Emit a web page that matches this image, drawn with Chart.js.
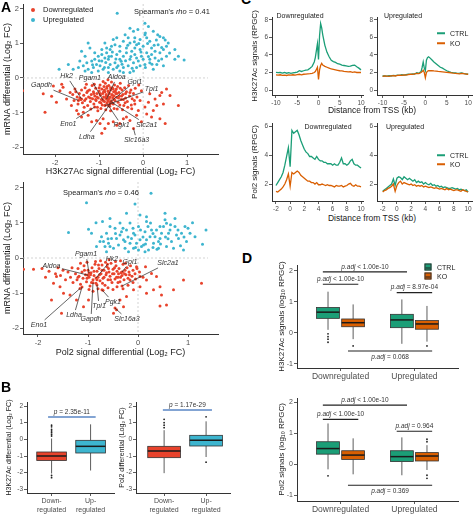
<!DOCTYPE html>
<html>
<head>
<meta charset="utf-8">
<title>H3K27Ac / Pol2 figure</title>
<script src="https://cdn.jsdelivr.net/npm/chart.js@4.4.1/dist/chart.umd.min.js"></script>
<style>
  body { margin: 0; width: 474px; height: 514px; position: relative; overflow: hidden; background: #fff;
         font-family: "Liberation Sans", Arial, sans-serif; color: #222; }
  canvas { position: absolute; }
  .txt { position: absolute; white-space: nowrap; line-height: 1; }
</style>
</head>
<body>
<script>
// ---- panel A: scatter of mRNA log2FC vs signal log2FC ----
const h3Down = [
  [-2.74,-0.37],[-2.27,-0.46],[-2.23,-0.99],[-2.08,-0.53],[-2.04,-0.23],[-1.89,-0.37],[-1.85,-0.18],[-1.97,-0.70],
  [-1.82,-0.27],[-1.74,-0.61],[-1.66,-0.42],[-1.63,-0.80],[-1.55,-0.32],[-1.51,-0.94],[-1.47,-1.04],[-1.40,-1.13],
  [-1.36,-0.99],[-1.25,-1.08],[-1.17,-1.27],[-1.06,-1.23],[-0.98,-1.32],[-0.91,-1.18],[-0.87,-1.46],[-0.94,-1.60],
  [-0.79,-1.32],[-0.68,-1.27],[-0.60,-1.37],[-0.53,-1.32],[-0.45,-1.18],[-0.38,-1.13],[-0.30,-1.23],[-0.15,-1.08],
  [-0.04,-1.27],[0.08,-1.04],[0.19,-1.13],[0.23,-0.94],[0.04,-0.84],[-0.11,-0.94],[-0.26,-0.89],[-0.19,-0.75],
  [-0.07,-0.65],[0.12,-0.70],[0.27,-0.61],[0.31,-0.80],[0.38,-0.51],[0.42,-0.42],[0.46,-0.75],[0.53,-0.32],
  [0.61,-0.51],[0.80,-0.80],[0.50,-1.32],[0.38,-1.18],[0.15,-0.46],[-0.04,-0.37],[-0.30,-0.42],
  [-1.50,-0.55],[-1.45,-0.45],[-1.42,-0.62],[-1.40,-0.35],[-1.38,-0.72],[-1.35,-0.50],[-1.32,-0.28],[-1.30,-0.60],
  [-1.28,-0.42],[-1.26,-0.80],[-1.24,-0.55],[-1.22,-0.35],[-1.20,-0.68],[-1.18,-0.48],[-1.16,-0.22],[-1.15,-0.60],
  [-1.13,-0.40],[-1.12,-0.75],[-1.10,-0.52],[-1.08,-0.30],[-1.07,-0.65],[-1.05,-0.45],[-1.04,-0.85],[-1.02,-0.58],
  [-1.00,-0.38],[-0.99,-0.70],[-0.98,-0.20],[-0.97,-0.50],[-0.95,-0.62],[-0.94,-0.32],[-0.93,-0.78],[-0.92,-0.45],
  [-0.90,-0.55],[-0.89,-0.25],[-0.88,-0.68],[-0.87,-0.40],[-0.86,-0.15],[-0.85,-0.58],[-0.84,-0.48],[-0.83,-0.30],
  [-0.82,-0.72],[-0.81,-0.52],[-0.80,-0.38],[-0.79,-0.62],[-0.78,-0.22],[-0.77,-0.45],[-0.76,-0.82],[-0.75,-0.55],
  [-0.74,-0.35],[-0.73,-0.66],[-0.72,-0.12],[-0.71,-0.48],[-0.70,-0.28],[-0.69,-0.58],[-0.68,-0.75],[-0.67,-0.40],
  [-0.66,-0.52],[-0.65,-0.20],[-0.64,-0.65],[-0.62,-0.45],[-0.61,-0.32],[-0.60,-0.56],[-0.58,-0.25],[-0.57,-0.70],
  [-0.55,-0.42],[-0.54,-0.52],[-0.52,-0.15],[-0.50,-0.62],[-0.48,-0.35],[-0.46,-0.48],[-0.44,-0.80],[-0.42,-0.28],
  [-0.40,-0.58],[-0.38,-0.40],[-0.36,-0.68],[-0.33,-0.22],[-0.31,-0.52],[-0.28,-0.35],[-0.25,-0.60],[-0.22,-0.45],
  [-0.18,-0.30],[-0.14,-0.55],[-0.10,-0.20],
  [-1.60,-0.48],[-1.57,-0.65],[-1.53,-0.40],[-1.48,-0.75],[-1.44,-0.58],[-1.34,-0.85],[-1.29,-0.18],[-1.19,-0.90],
  [-1.11,-0.18],[-1.03,-0.95],[-0.96,-0.88],[-0.91,-0.10],[-0.85,-0.92],[-0.80,-0.05],[-0.74,-0.95],[-0.66,-0.88],
  [-0.59,-0.90],[-0.53,-0.78],[-0.47,-0.92],[-0.41,-0.72],[-0.35,-0.85],[-0.27,-0.78],[-0.20,-0.65],
  [-1.05,-0.55],[-0.98,-0.45],[-0.92,-0.62],[-0.88,-0.35],[-0.84,-0.52],[-0.80,-0.66],[-0.78,-0.42],[-0.74,-0.28],
  [-0.70,-0.50],[-0.66,-0.62],[-0.63,-0.38],[-0.60,-0.45],[-0.56,-0.58],[-0.52,-0.30],[-0.49,-0.52],[-1.12,-0.45],
  [-1.08,-0.62],[-1.00,-0.28],[-0.96,-0.72],[-0.90,-0.40],[-0.86,-0.78],[-0.82,-0.25],[-0.77,-0.58],[-0.72,-0.72],
  [-0.68,-0.32],[-1.20,-0.58],[-1.26,-0.38],[-1.33,-0.65],[-0.45,-0.62],[-0.40,-0.45]
];
const h3Up = [
  [-0.59,1.87],[0.04,1.58],[-0.30,1.44],[-0.22,1.35],[-0.60,1.16],[-0.34,1.16],[0.04,1.25],[0.08,1.16],
  [0.15,1.06],[0.46,1.16],[0.53,0.92],[0.34,0.96],[0.19,0.87],[0.00,0.92],[-0.15,0.96],[-0.30,1.01],
  [-0.45,1.06],[-0.53,0.92],[-0.64,0.96],[-0.75,0.82],[-0.83,0.73],[-0.94,0.82],[-1.02,0.63],[-1.10,0.73],
  [-1.21,0.87],[-1.25,1.01],[-1.40,0.77],[-1.32,0.63],[-1.44,0.49],[-1.28,0.44],[-1.17,0.49],[-1.06,0.39],
  [-0.94,0.49],[-0.87,0.58],[-0.79,0.54],[-0.72,0.63],[-0.60,0.68],[-0.53,0.54],[-0.45,0.63],[-0.38,0.73],
  [-0.26,0.77],[-0.19,0.68],[-0.15,0.58],[-0.07,0.82],[-0.04,0.63],[0.08,0.73],[0.19,0.68],[0.27,0.58],
  [0.38,0.73],[0.46,0.82],[0.53,0.63],[0.72,0.54],[0.93,0.52],[0.31,0.39],[0.15,0.44],[0.04,0.39],
  [-0.07,0.35],[-0.22,0.44],[-0.34,0.35],[-0.45,0.30],[-0.57,0.35],[-0.68,0.25],[-0.79,0.30],[-0.91,0.25],
  [-1.02,0.20],[-1.13,0.30],[-1.25,0.25],[-1.36,0.35],[-1.47,0.30],[-1.59,0.25],[-1.91,0.25],[-1.70,0.39],
  [-0.87,1.01],[-0.68,1.11],[-0.41,1.25],[-0.19,1.16],[-0.07,1.11],[0.12,1.49],[0.23,1.35],[0.38,1.20],
  [0.57,1.01],[-0.53,0.77],[-0.64,0.44],[-0.75,0.39],[-0.30,0.54],[-0.11,0.49],[0.00,0.54],[-0.98,0.35],
  [-1.10,0.54],[-1.32,0.20],[-1.17,0.16],[-0.79,0.16],[-0.45,0.16],[-0.22,0.20],[-0.53,0.20],[0.23,0.25],
  [0.46,0.35],[-0.94,0.68],[-0.83,0.87],[-0.38,0.87],[-0.19,0.87],[-0.72,0.92],[0.15,0.54],[0.27,0.77],
  [-0.15,0.30],[-0.30,0.16],[0.72,0.82],[0.50,1.10],[0.42,0.55],[-0.10,1.00],[-0.40,0.50],[-0.62,0.55],
  [-0.85,0.45],[-0.48,0.40],[-0.25,0.28],[0.05,0.30],[-1.00,0.50],[-0.70,0.75],[0.80,0.63],
  [-0.20,1.05],[0.10,1.00],[0.25,0.95],[0.30,1.10],[-0.05,0.75],[0.12,0.62],[0.35,0.50],[-0.28,0.62],
  [-0.50,0.48],[-0.35,0.95],[0.42,0.88],[0.20,0.40],[-0.60,0.30],[-0.88,0.30],[-1.15,0.38],[0.60,0.72],
  [0.05,1.30],[-0.12,1.40],[0.33,1.25],[-0.78,0.62]
];
const pol2Down = [
  [-2.29,-0.32],[-2.09,-0.32],[-1.73,-1.20],[-1.53,-1.58],[-1.69,-0.72],[-1.63,-0.53],[-1.56,-0.82],[-1.49,-1.01],
  [-1.36,-1.06],[-1.23,-1.20],[-1.09,-1.39],[-0.99,-1.20],[-0.43,-1.48],[-0.36,-1.20],[-0.23,-1.10],[-0.09,-0.91],
  [0.04,-0.82],[0.17,-0.63],[0.27,-0.44],[0.31,-0.91],[0.44,-0.82],[0.47,-1.06],[0.57,-1.34],[0.44,-1.37],
  [0.71,-0.91],[0.91,-0.63],[1.27,-0.72],[0.37,-0.53],[0.17,-1.01],[0.04,-0.53],[-0.03,-0.25],[-0.16,-0.63],
  [-0.29,-1.39],[-0.49,-1.58],
  [-1.25,-0.45],[-1.22,-0.62],[-1.20,-0.30],[-1.18,-0.52],[-1.15,-0.75],[-1.12,-0.40],[-1.10,-0.58],[-1.08,-0.22],
  [-1.05,-0.48],[-1.03,-0.68],[-1.00,-0.35],[-0.98,-0.55],[-0.96,-0.80],[-0.94,-0.42],[-0.92,-0.28],[-0.90,-0.62],
  [-0.88,-0.50],[-0.86,-0.18],[-0.84,-0.72],[-0.82,-0.38],[-0.80,-0.55],[-0.78,-0.30],[-0.76,-0.65],[-0.74,-0.45],
  [-0.72,-0.20],[-0.70,-0.58],[-0.68,-0.35],[-0.66,-0.78],[-0.64,-0.48],[-0.62,-0.25],[-0.60,-0.62],[-0.58,-0.40],
  [-0.56,-0.52],[-0.54,-0.15],[-0.52,-0.70],[-0.50,-0.32],[-0.48,-0.45],[-0.46,-0.60],[-0.44,-0.22],[-0.42,-0.38],
  [-0.40,-0.55],[-0.38,-0.30],[-0.36,-0.68],[-0.34,-0.42],[-0.32,-0.50],[-0.30,-0.18],[-0.28,-0.62],[-0.26,-0.35],
  [-0.24,-0.48],[-0.22,-0.28],[-0.20,-0.58],[-0.18,-0.40],[-0.15,-0.22],[-0.12,-0.52],[-0.10,-0.35],[-0.06,-0.45],
  [-0.02,-0.30],[0.03,-0.40],
  [-1.40,-0.40],[-1.35,-0.55],[-1.32,-0.28],[-1.30,-0.70],[-1.45,-0.62],[-1.50,-0.35],[-1.55,-0.50],[-1.60,-0.28],
  [-1.65,-0.45],[-1.78,-0.38],[-1.85,-0.55],[-1.92,-0.30],
  [-0.98,-0.90],[-0.90,-0.95],[-0.80,-0.88],[-0.70,-0.92],[-0.60,-0.85],[-0.50,-0.90],[-0.42,-0.82],[-0.30,-0.88],
  [-0.20,-0.78],[-0.10,-0.70],[-0.85,-0.10],[-0.75,-0.08],[-0.65,-0.12],[-0.58,-0.05],[-0.45,-0.10],[-0.35,-0.08],
  [-1.15,-0.15],[-1.02,-0.12],[-0.25,-0.15],[0.10,-0.55],[0.15,-0.25],[-0.05,-0.60],
  [-0.95,-0.48],[-0.88,-0.38],[-0.82,-0.62],[-0.77,-0.48],[-0.72,-0.35],[-0.68,-0.55],[-0.63,-0.42],[-0.59,-0.30],
  [-0.55,-0.62],[-0.51,-0.45],[-0.47,-0.28],[-0.43,-0.55],[-0.39,-0.45],[-0.35,-0.55],[-0.31,-0.40],[-1.02,-0.58],
  [-1.07,-0.35],[-0.93,-0.70],[-0.71,-0.72],[-0.61,-0.18],[-0.40,-0.70],[-0.27,-0.45],[-0.17,-0.48],[-1.20,-0.55],
  [-0.79,-0.20]
];
const pol2Up = [
  [0.26,1.85],[-1.03,1.58],[-1.39,0.73],[1.36,0.80],[1.29,0.39],[1.09,1.01],[-0.06,1.54],[-0.84,1.01],
  [-0.71,1.04],[-0.99,0.82],[-0.93,0.71],[-0.76,0.47],[-0.66,0.33],[-0.59,0.42],[-0.53,0.56],[-0.46,0.85],
  [-0.36,0.66],[-0.29,0.52],[-0.23,0.80],[-0.16,0.42],[-0.09,0.28],[-0.06,0.66],[0.01,0.90],[0.04,0.52],
  [0.11,0.37],[0.14,0.75],[0.17,1.04],[0.24,0.61],[0.31,0.42],[0.37,0.80],[0.44,0.56],[0.51,0.90],
  [0.54,1.09],[0.61,0.71],[0.67,0.47],[0.74,0.90],[0.81,0.56],[0.87,0.71],[0.97,0.47],[1.04,0.71],
  [0.57,0.99],[0.44,0.90],[0.17,1.18],[0.04,1.23],[-0.16,1.00],[-0.36,1.00],[-0.56,0.90],[-0.63,0.71],
  [-0.73,0.61],[-0.83,0.33],[-0.49,0.28],[-0.39,0.37],[-0.26,0.28],[-0.19,0.18],[0.01,0.23],[0.07,0.33],
  [0.21,0.23],[0.41,0.28],[0.57,0.33],[0.71,0.28],[0.91,0.23],[-0.03,0.42],[-0.13,0.56],[-0.33,0.75],
  [-0.43,0.56],[-0.69,0.47],[0.27,0.80],[0.34,0.61],[0.47,0.71],[0.64,0.80],[0.77,0.66],[0.94,0.90],
  [0.17,0.52],[-0.09,0.71],[-0.26,0.47],[-0.56,0.33],[-0.63,0.18],[0.14,0.18],[0.41,0.47],[1.14,0.61],
  [0.54,1.28],[0.74,1.13],[-0.56,1.13],[-0.23,1.28],[0.20,0.90],[-0.10,0.85],[0.60,0.55],[0.30,0.30],
  [-0.45,0.70],[0.85,0.35],[1.00,0.85],
  [0.10,0.60],[0.30,0.70],[0.45,0.40],[0.55,0.60],[-0.20,0.60],[0.05,0.80],[0.25,1.00],[0.65,0.95],
  [-0.30,0.85],[0.80,0.80],[0.38,0.25],[-0.05,0.30],[0.15,0.40],[0.92,0.60],[-0.60,0.55]
];
const genes = ['Gapdh', 'Hk2', 'Pgam1', 'Aldoa', 'Gpi1', 'Tpi1', 'Eno1', 'Ldha', 'Pgk1', 'Slc2a1', 'Slc16a3'];
const h3GenePts = [[-1.47,-0.65],[-1.40,-0.61],[-0.91,-0.65],[-0.83,-0.61],[-0.75,-0.70],[-0.87,-0.80],
                   [-1.10,-0.84],[-0.75,-0.75],[-0.79,-0.80],[-0.72,-0.70],[-0.22,-1.46]];
const h3GeneLabelAt = [[-2.31,-0.21],[-1.74,0.06],[-1.21,0.01],[-0.60,0.03],[-0.19,-0.11],[0.19,-0.32],
                       [-1.70,-1.32],[-1.28,-1.70],[-0.49,-1.37],[0.08,-1.35],[-0.15,-1.80]];
const pol2GenePts = [[-0.90,-0.71],[-0.84,-0.57],[-0.98,-0.43],[-1.00,-0.49],[-0.32,-0.40],[-0.82,-0.77],
                     [-1.16,-0.87],[-1.12,-0.83],[-0.72,-0.91],[-0.32,-0.80],[-0.46,-1.43]];
const pol2GeneLabelAt = [[-0.94,-1.74],[-0.52,-0.03],[-1.04,0.11],[-1.73,-0.23],[-0.16,-0.11],[-0.78,-1.37],
                         [-1.98,-1.91],[-1.28,-1.63],[-0.50,-1.26],[0.60,-0.14],[-0.22,-1.74]];

// ---- panel B: [low whisker, q1, median, q3, high whisker] ----
const groupNames = [['Down-', 'regulated'], ['Up-', 'regulated']];
const h3FcBox = [[-2.05, -1.27, -1.0, -0.76, 0.05], [-1.87, -0.82, -0.42, -0.06, 0.9]];
const h3FcOut = [[0.2, 0.3, 0.4, 0.5, 0.6, 0.75, 0.85, -2.17, -2.3], []];
const pol2FcBox = [[-2.03, -1.1, -0.7, -0.42, 0.55], [-1.06, -0.4, -0.05, 0.24, 1.08]];
const pol2FcOut = [[0.7, 0.85, 1.0, 1.2], [1.35, -1.37]];

// ---- panel C: meta-gene profiles ----
const h3X = [-10,-9.5,-9,-8.5,-8,-7.5,-7,-6.5,-6,-5.5,-5,-4.5,-4,-3.5,-3,-2.5,-2,-1.5,-1,-0.75,-0.5,-0.25,0,
             0.25,0.5,0.75,1,1.5,2,2.5,3,3.5,4,4.5,5,5.5,6,6.5,7,7.5,8,8.5,9,9.5,10];
const h3DownCtrl = [2.02,1.98,2.0,1.94,2.0,1.92,1.98,1.9,1.96,2.0,2.05,2.2,2.12,2.2,2.28,2.3,2.48,2.7,3.2,
                    3.7,4.5,5.3,3.5,6.2,7.6,7.1,6.3,5.1,4.3,3.8,3.4,3.25,3.15,3.0,2.95,2.85,
                    2.8,2.75,2.7,2.72,2.82,2.85,2.65,2.5,2.3];
const h3DownKo = [1.72,1.7,1.74,1.68,1.7,1.66,1.72,1.7,1.74,1.7,1.76,1.8,1.74,1.8,1.82,1.84,1.86,1.9,2.0,
                  2.1,2.35,2.6,1.2,2.3,2.8,3.05,2.85,2.7,2.6,2.5,2.4,2.35,2.3,2.25,2.2,2.18,
                  2.12,2.1,2.08,2.1,2.02,2.06,2.0,2.02,2.0];
const h3UpCtrl = [1.6,1.62,1.58,1.64,1.6,1.66,1.64,1.7,1.68,1.74,1.7,1.76,1.8,1.78,1.85,1.82,1.98,1.9,2.1,
                  2.6,3.2,2.5,2.2,3.4,3.7,3.8,3.7,3.45,3.2,3.0,2.8,2.6,2.5,2.35,2.2,2.1,
                  2.02,1.98,1.95,1.9,1.92,1.95,1.88,1.85,1.8];
const h3UpKo = [1.56,1.6,1.58,1.55,1.62,1.64,1.6,1.66,1.7,1.68,1.72,1.7,1.76,1.8,1.78,1.85,1.9,1.88,2.0,
                2.1,2.25,2.0,1.4,2.0,2.15,2.2,2.2,2.22,2.18,2.15,2.12,2.1,2.08,2.05,2.02,2.0,
                1.96,1.92,1.9,1.88,1.85,1.9,1.86,1.82,1.8];
const pol2X = [-2,-1.75,-1.5,-1.25,-1,-0.75,-0.5,-0.25,0,0.25,0.5,0.75,1,1.25,1.5,1.75,2,2.25,2.5,2.75,3,3.25,
               3.5,3.75,4,4.25,4.5,4.75,5,5.25,5.5,5.75,6,6.25,6.5,6.75,7,7.25,7.5,7.75,8,8.25,8.5,8.75,
               9,9.25,9.5,9.75,10];
const pol2DownCtrl = [1.9,2.1,2.3,2.5,2.8,3.3,3.9,4.5, 3.2,5.7,5.5,5.6,5.7,5.4,5.0,4.7, 4.4,4.2,4.1,3.9,3.9,3.8,3.7,3.9,
                      3.7,3.6,3.6,3.5,3.5,3.4,3.4,3.4, 3.3,3.4,3.3,3.3,3.5,3.8,3.4,3.4, 3.3,3.4,3.6,3.7,3.4,3.3,3.3,3.2, 3.1];
const pol2DownKo = [1.5,1.45,1.55,1.65,1.8,2.0,2.3,2.7, 1.85,2.8,2.7,2.8,2.9,2.8,2.6,2.5, 2.4,2.3,2.2,2.2,2.1,2.1,2.0,2.1,
                    1.95,1.95,2.0,1.95,1.9,1.95,1.9,1.9, 1.85,1.8,1.9,1.85,1.85,1.9,1.8,1.85, 1.9,2.0,2.05,1.9,1.85,1.95,1.85,1.85, 1.8];
const pol2UpCtrl = [1.5,1.6,1.7,1.8,1.9,2.0,2.35,1.9, 2.4,2.5,2.45,2.3,2.5,2.4,2.3,2.4, 2.3,2.2,2.3,2.1,2.2,2.1,2.15,2.0,
                    2.1,2.0,1.95,2.05,1.9,1.95,1.85,1.9, 1.8,1.85,1.75,1.8,1.75,1.7,1.7,1.75, 1.7,1.65,1.7,1.6,1.65,1.6,1.55,1.6, 1.45];
const pol2UpKo = [1.45,1.55,1.6,1.7,1.75,1.85,2.0,1.5, 1.9,2.1,2.2,2.0,2.1,2.05,2.0,1.95, 2.0,1.9,1.95,1.85,1.9,1.85,1.9,1.8,
                  1.85,1.8,1.75,1.8,1.75,1.7,1.75,1.7, 1.65,1.7,1.65,1.6,1.7,1.6,1.65,1.6, 1.55,1.6,1.6,1.55,1.5,1.6,1.55,1.5, 1.45];

// ---- panel D: log10 RPGC boxes, order CTRL-Down, KO-Down, CTRL-Up, KO-Up ----
const dCats = ['Downregulated', 'Upregulated'];
const h3SigBox = [[0.1, 0.47, 0.67, 0.82, 1.33], [-0.2, 0.2, 0.33, 0.45, 0.92],
                  [-0.35, 0.17, 0.42, 0.6, 1.08], [-0.28, 0.12, 0.29, 0.4, 0.87]];
const h3SigOut = [[-0.03, -0.12, -0.2, -0.3], [-0.42], [], [-0.42]];
const pol2SigBox = [[-0.17, 0.32, 0.5, 0.72, 1.31], [-0.33, 0.15, 0.29, 0.43, 0.83],
                    [-0.36, 0.08, 0.24, 0.43, 0.86], [-0.19, 0.1, 0.26, 0.37, 0.61]];
const pol2SigOut = [[-0.38], [], [], [0.72, 0.8, -0.36, -0.46]];
const h3Tests = ['p.adj < 1.00e-10', 'p.adj < 1.00e-10', 'p.adj = 8.97e-04', 'p.adj = 0.068'];
const pol2Tests = ['p.adj < 1.00e-10', 'p.adj < 1.00e-10', 'p.adj = 0.964', 'p.adj = 0.369'];

const RED = '#E8432C', BLUE = '#3DB5CF', GREEN = '#1B9E77', ORANGE = '#D95F02';
const INK = '#333', TICK = '#4d4d4d', TITLE = '#1a1a1a';
const FONT = '"Liberation Sans", Arial, sans-serif';
Chart.defaults.font.family = FONT;

const toXY = arr => arr.map(([x, y]) => ({x, y}));

// dotted reference lines at 0 / 0
const zeroLines = {
  id: 'zeroLines',
  beforeDatasetsDraw(chart) {
    const {ctx, chartArea: a, scales: {x, y}} = chart;
    const px = x.getPixelForValue(0), py = y.getPixelForValue(0);
    ctx.save();
    ctx.strokeStyle = '#c8c8c8';
    ctx.lineWidth = 0.8;
    ctx.setLineDash([2, 2]);
    ctx.beginPath();
    ctx.moveTo(px, a.top); ctx.lineTo(px, a.bottom);
    ctx.moveTo(a.left, py); ctx.lineTo(a.right - 10, py);
    ctx.stroke();
    ctx.restore();
  }
};

// gene names with leader lines
const geneLabels = {
  id: 'geneLabels',
  afterDatasetsDraw(chart, args, o) {
    if (!o.names) return;
    const {ctx, scales: {x, y}} = chart;
    ctx.save();
    ctx.font = 'italic 7px ' + FONT;
    ctx.textAlign = 'center';
    ctx.textBaseline = 'middle';
    o.names.forEach((name, i) => {
      const px = x.getPixelForValue(o.points[i][0]), py = y.getPixelForValue(o.points[i][1]);
      const lx = x.getPixelForValue(o.labels[i][0]), ly = y.getPixelForValue(o.labels[i][1]);
      const hw = ctx.measureText(name).width / 2 + 1.5, hh = 5;
      const dx = px - lx, dy = py - ly;
      const t = Math.min(dx ? hw / Math.abs(dx) : 1e9, dy ? hh / Math.abs(dy) : 1e9);
      ctx.strokeStyle = '#222';
      ctx.lineWidth = 0.7;
      ctx.beginPath();
      ctx.moveTo(lx + dx * t, ly + dy * t);
      ctx.lineTo(px, py);
      ctx.stroke();
      ctx.fillStyle = '#333';
      ctx.fillText(name, lx, ly);
    });
    ctx.restore();
  }
};

// box + whiskers drawn on the chart scales
const boxes = {
  id: 'boxes',
  beforeDatasetsDraw(chart, args, o) {
    if (!o.items) return;
    const {ctx, scales: {x, y}} = chart;
    ctx.save();
    o.items.forEach(b => {
      const cx = x.getPixelForValue(b.at);
      const half = x.getPixelForValue(b.at + o.width / 2) - cx;
      const [lo, q1, med, q3, hi] = b.stats.map(v => y.getPixelForValue(v));
      ctx.strokeStyle = INK;
      ctx.lineWidth = 0.8;
      ctx.beginPath();
      ctx.moveTo(cx, lo); ctx.lineTo(cx, q1);
      ctx.moveTo(cx, q3); ctx.lineTo(cx, hi);
      ctx.stroke();
      ctx.fillStyle = b.color;
      ctx.fillRect(cx - half, q3, 2 * half, q1 - q3);
      ctx.strokeRect(cx - half, q3, 2 * half, q1 - q3);
      ctx.strokeStyle = '#1a1a1a';
      ctx.lineWidth = 1.5;
      ctx.beginPath();
      ctx.moveTo(cx - half, med); ctx.lineTo(cx + half, med);
      ctx.stroke();
    });
    ctx.restore();
  }
};

// significance bars
const brackets = {
  id: 'brackets',
  afterDatasetsDraw(chart, args, o) {
    if (!o.items) return;
    const {ctx, scales: {x, y}} = chart;
    ctx.save();
    o.items.forEach(b => {
      const x1 = x.getPixelForValue(b.from), x2 = x.getPixelForValue(b.to), py = y.getPixelForValue(b.y);
      ctx.strokeStyle = o.color;
      ctx.lineWidth = o.width;
      ctx.beginPath();
      ctx.moveTo(x1, py); ctx.lineTo(x2, py);
      ctx.stroke();
      const cut = b.text.indexOf(' ');
      const head = b.text.slice(0, cut), tail = b.text.slice(cut);
      const italic = 'italic ' + o.size + 'px ' + FONT, plain = o.size + 'px ' + FONT;
      ctx.font = italic; const w1 = ctx.measureText(head).width;
      ctx.font = plain; const w2 = ctx.measureText(tail).width;
      const tx = (x1 + x2) / 2 - (w1 + w2) / 2, ty = py + (b.below ? 6 : -5);
      ctx.fillStyle = '#333';
      ctx.textBaseline = 'middle';
      ctx.textAlign = 'left';
      ctx.font = italic; ctx.fillText(head, tx, ty);
      ctx.font = plain; ctx.fillText(tail, tx + w1, ty);
    });
    ctx.restore();
  }
};

function axis(o) {
  return {
    type: 'linear', min: o.min, max: o.max,
    grid: {drawOnChartArea: false, color: INK, tickLength: 3, tickWidth: 0.8},
    border: {color: INK, width: 1},
    ticks: {
      stepSize: o.step, includeBounds: false, color: TICK, padding: o.tpad === undefined ? 1 : o.tpad,
      maxRotation: 0, autoSkip: false,
      font: {size: o.size || 7, lineHeight: o.lh || 1.2},
      callback: o.labels || (v => String(v))
    },
    title: o.title
      ? {display: true, text: o.title, color: TITLE, font: {size: o.titleSize || 9}, padding: o.pad || 0}
      : {display: false}
  };
}

function base(opts) {
  opts.responsive = false;
  opts.animation = false;
  opts.events = [];
  opts.plugins = Object.assign({legend: {display: false}, tooltip: {enabled: false}}, opts.plugins || {});
  return opts;
}

function zeroPad(s) {
  s.paddingLeft = s.paddingRight = s.paddingTop = s.paddingBottom = 0;
}

// box = canvas [left, top, w, h]; area = plot area [l, t, r, b], page pixels
function frame(box, area, cfg) {
  const [L, T, W, H] = box;
  const [l, t, r, b] = area;
  const c = document.createElement('canvas');
  c.width = W; c.height = H;
  c.style.left = L + 'px'; c.style.top = T + 'px';
  c.style.width = W + 'px'; c.style.height = H + 'px';
  document.body.appendChild(c);
  cfg.options.layout = {padding: {left: 0, top: t - T, right: L + W - r, bottom: 0}};
  cfg.options.devicePixelRatio = 1;
  cfg.options.scales.x.afterFit = s => { s.height = T + H - b; zeroPad(s); };
  cfg.options.scales.y.afterFit = s => { s.width = l - L; zeroPad(s); };
  return new Chart(c, cfg);
}

function note(html, x, y, size, css) {
  const d = document.createElement('div');
  d.className = 'txt';
  d.innerHTML = html;
  d.style.left = x + 'px';
  d.style.top = y + 'px';
  d.style.fontSize = size + 'px';
  d.style.transform = 'translate(-50%, -50%)';
  if (css) d.style.cssText += css;
  document.body.appendChild(d);
  return d;
}
function leftNote(html, x, y, size, css) {
  return note(html, x, y, size, 'transform:translate(0,-50%);' + (css || ''));
}

// ---------- A ----------
function scatterPanel(box, area, xr, yr, xTitle, down, up, pts, labelAt) {
  return frame(box, area, {
    type: 'scatter',
    data: {datasets: [
      {data: toXY(down.concat(pts)), backgroundColor: RED, pointRadius: 1.5, borderWidth: 0},
      {data: toXY(up), backgroundColor: BLUE, pointRadius: 1.5, borderWidth: 0}
    ]},
    options: base({
      scales: {
        x: axis({min: xr[0], max: xr[1], step: 1, size: 7.5, title: xTitle, titleSize: 9,
                 pad: {top: 0, bottom: xr[2]}}),
        y: axis({min: yr[0], max: yr[1], step: 1, size: 7.5, title: 'mRNA differential (Log\u2082 FC)',
                 titleSize: 9, pad: {top: 2, bottom: 0}})
      },
      plugins: {geneLabels: {names: genes, points: pts, labels: labelAt}}
    }),
    plugins: [zeroLines, geneLabels]
  });
}
scatterPanel([0, 0, 224, 178], [23, 2, 218, 154], [-2.73, 1.7, 1.5], [-2.2, 2.14],
             'H3K27Ac signal differential (Log\u2082 FC)', h3Down, h3Up, h3GenePts, h3GeneLabelAt);
scatterPanel([0, 178, 224, 180], [23, 182, 218, 334], [-2.3, 1.6, 0], [-2.17, 2.17],
             'Pol2 signal differential (Log\u2082 FC)', pol2Down, pol2Up, pol2GenePts, pol2GeneLabelAt);

// ---------- B ----------
function fcBoxPanel(box, area, xr, stats, outs, yTitle, test) {
  const colors = [RED, BLUE];
  const outPts = [];
  outs.forEach((list, g) => list.forEach(v => outPts.push({x: g + 1, y: v})));
  return frame(box, area, {
    type: 'scatter',
    data: {datasets: [{data: outPts, backgroundColor: '#222', pointRadius: 0.9, borderWidth: 0}]},
    options: base({
      scales: {
        x: axis({min: xr[0], max: xr[1], step: 1, size: 7, lh: 1.35, tpad: 0, labels: v => groupNames[v - 1]}),
        y: axis({min: -3.22, max: 2.24, step: 1, size: 6.5, title: yTitle, titleSize: 7, pad: {top: xr[2], bottom: 0}})
      },
      plugins: {
        boxes: {width: xr[3], items: stats.map((s, g) => ({at: g + 1, stats: s, color: colors[g]}))},
        brackets: {color: '#5A86C4', width: 1.5, size: 6.5, items: [test]}
      }
    }),
    plugins: [boxes, brackets]
  });
}
fcBoxPanel([0, 398, 118, 116], [27, 402, 115, 493], [0.37, 2.6, 5, 0.76], h3FcBox, h3FcOut,
           'H3K27Ac differential (Log\u2082 FC)', {from: 0.91, to: 2.13, y: 1.34, text: 'p = 2.35e-11'});
fcBoxPanel([114, 398, 120, 116], [136, 402, 230, 493], [0.33, 2.57, 4, 0.78], pol2FcBox, pol2FcOut,
           'Pol2 differential (Log\u2082 FC)', {from: 0.97, to: 2.14, y: 1.76, text: 'p = 1.17e-29'});

// ---------- C ----------
function profilePanel(box, area, xr, yr, xs, ctrl, ko, step, yStep, yTitle) {
  return frame(box, area, {
    type: 'line',
    data: {datasets: [
      {data: xs.map((x, i) => ({x, y: ko[i]})), borderColor: ORANGE, borderWidth: 1.3, pointRadius: 0, tension: 0},
      {data: xs.map((x, i) => ({x, y: ctrl[i]})), borderColor: GREEN, borderWidth: 1.3, pointRadius: 0, tension: 0}
    ]},
    options: base({
      scales: {
        x: axis({min: xr[0], max: xr[1], step: step, size: 6.5}),
        y: axis({min: yr[0], max: yr[1], step: yStep, size: 6.5, title: yTitle, titleSize: 8, pad: {top: 6, bottom: 0}})
      }
    })
  });
}
profilePanel([244, 8, 124, 99], [272, 17, 363, 95], [-10.94, 10.47], [-0.57, 8.34], h3X, h3DownCtrl, h3DownKo,
             5, 2, 'H3K27Ac signals (RPGC)');
profilePanel([368, 8, 106, 99], [377, 17, 472, 95], [-11.3, 10.9], [-0.57, 8.34], h3X, h3UpCtrl, h3UpKo,
             5, 2, null);
profilePanel([244, 118, 124, 94], [272, 123, 363, 201], [-2.56, 10.28], [0.83, 6.21], pol2X, pol2DownCtrl, pol2DownKo,
             2, 2, 'Pol2 signals (RPGC)');
profilePanel([368, 118, 106, 94], [377, 123, 472, 201], [-2.8, 10.55], [0.83, 6.21], pol2X, pol2UpCtrl, pol2UpKo,
             2, 2, null);

// ---------- D ----------
function sigBoxPanel(box, area, yr, stats, outs, yTitle, tests, ys) {
  const at = [0.83, 1.17, 1.83, 2.17];
  const colors = [GREEN, ORANGE, GREEN, ORANGE];
  const outPts = [];
  outs.forEach((list, g) => list.forEach(v => outPts.push({x: at[g], y: v})));
  const pairs = [[0, 2], [0, 1], [2, 3], [1, 3]];
  return frame(box, area, {
    type: 'scatter',
    data: {datasets: [{data: outPts, backgroundColor: '#222', pointRadius: 0.9, borderWidth: 0}]},
    options: base({
      scales: {
        x: axis({min: 0.41, max: 2.59, step: 1, size: 8.5, labels: v => dCats[v - 1]}),
        y: axis({min: yr[0], max: yr[1], step: 1, size: 7, title: yTitle, titleSize: 8, pad: {top: 3, bottom: 0}})
      },
      plugins: {
        boxes: {width: 0.31, items: stats.map((s, g) => ({at: at[g], stats: s, color: colors[g]}))},
        brackets: {color: '#222', width: 1.1, size: 6.5, items: pairs.map((p, k) => ({
          from: at[p[0]] - 0.07, to: at[p[1]] + 0.07, y: ys[k], text: tests[k], below: k === 3
        }))}
      }
    }),
    plugins: [boxes, brackets]
  });
}
sigBoxPanel([274, 255, 190, 128], [297, 265, 458, 368], [-1.13, 2.19], h3SigBox, h3SigOut,
            'H3K27Ac signals (log\u2081\u2080 RPGC)', h3Tests, [1.97, 1.57, 1.3, -0.58]);
sigBoxPanel([274, 388, 190, 126], [297, 398, 458, 501], [-1.19, 2.13], pol2SigBox, pol2SigOut,
            'Pol2 signals (log\u2081\u2080 RPGC)', pol2Tests, [1.9, 1.44, 1.06, -0.68]);

// ---------- text & legends ----------
const bold = 'font-weight:bold;color:#000;';
note('A', 6, 7, 14, bold);
note('B', 6, 387, 14, bold);
note('C', 246, -1, 14, bold);
note('D', 247, 258, 14, bold);

note('', 33, 9.5, 1, `width:4px;height:4px;border-radius:50%;background:${RED};`);
note('', 33, 19.5, 1, `width:4px;height:4px;border-radius:50%;background:${BLUE};`);
leftNote('Downregulated', 43, 9.5, 7.5);
leftNote('Upregulated', 43, 19.5, 7.5);
leftNote("Spearman's <i>rho</i> = 0.41", 134, 12, 7.5);
leftNote("Spearman's <i>rho</i> = 0.46", 63, 193, 7.5);

note('Downregulated', 300, 15, 7);
note('Upregulated', 403, 15, 7);
note('Downregulated', 328, 126, 7);
note('Upregulated', 405, 126, 7);
note('Distance from TSS (kb)', 372, 110, 8.5, 'color:#1a1a1a;');
note('Distance from TSS (kb)', 372, 218, 8.5, 'color:#1a1a1a;');

[[33, 43], [155, 164]].forEach(([yc, yk]) => {
  note('', 441, yc, 1, `width:8px;height:1.5px;background:${GREEN};`);
  note('', 441, yk, 1, `width:8px;height:1.5px;background:${ORANGE};`);
  leftNote('CTRL', 450, yc, 7);
  leftNote('KO', 450, yk, 7);
});

[[267, GREEN, 'CTRL'], [276, ORANGE, 'KO']].forEach(([yc, col, name]) => {
  note('<div style="position:absolute;left:0;right:0;top:3px;height:1px;background:#222"></div>', 428, yc, 1,
       `width:7px;height:7px;background:${col};border:0.8px solid #333;box-sizing:border-box;`);
  leftNote(name, 437, yc, 7);
});
</script>
</body>
</html>
